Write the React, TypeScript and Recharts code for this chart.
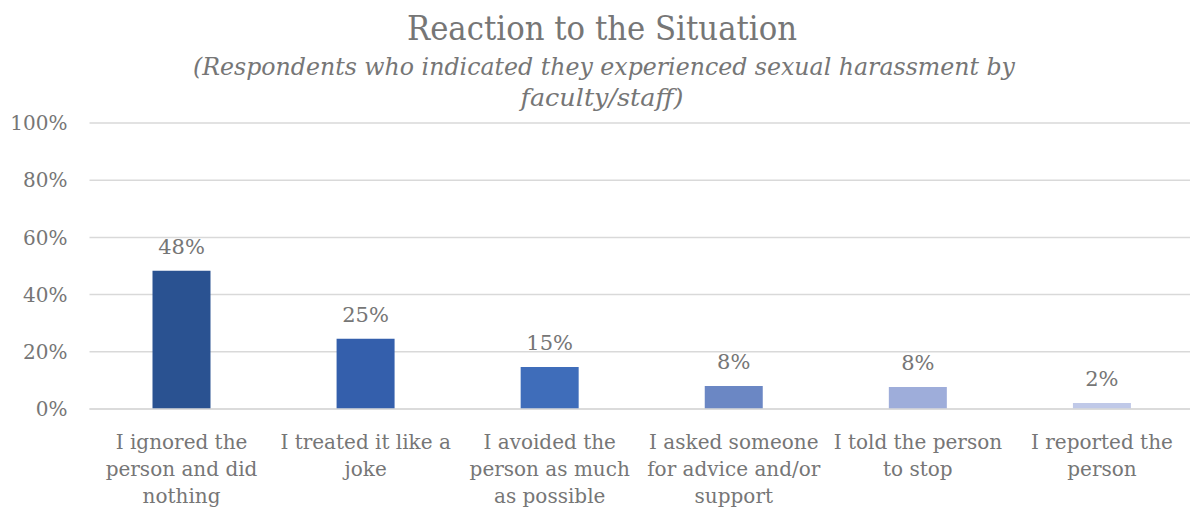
import { BarChart, Bar, XAxis, YAxis, CartesianGrid, Cell, LabelList } from 'recharts'

const categories = [
  'I ignored the\nperson and did\nnothing',
  'I treated it like a\njoke',
  'I avoided the\nperson as much\nas possible',
  'I asked someone\nfor advice and/or\nsupport',
  'I told the person\nto stop',
  'I reported the\nperson',
]
const shares = [48.3, 24.6, 14.7, 8.0, 7.7, 2.1]
const barColors = ['#2a5291', '#345fac', '#3f6dba', '#6b87c4', '#9eadda', '#c0c9e8']
const yTicks = [0, 20, 40, 60, 80, 100]

const title = 'Reaction to the Situation'
const subtitle = ['(Respondents who indicated they experienced sexual harassment by', 'faculty/staff)']

const data = categories.map((name, i) => ({ name, value: shares[i] }))

const serif = '"DejaVu Serif", serif'
const grey = '#767676'

function CategoryTick({ x, y, payload }: any) {
  const lines = String(payload.value).split('\n')
  return (
    <text x={x} y={y} textAnchor="middle" fontFamily={serif} fontSize={20} fill={grey}>
      {lines.map((line, i) => (
        <tspan key={i} x={x} dy={i === 0 ? 32 : 27}>
          {line}
        </tspan>
      ))}
    </text>
  )
}

export default function App() {
  return (
    <div style={{ position: 'absolute', left: 0, top: 0, width: 1190, height: 509, overflow: 'hidden', background: '#fff' }}>
      <BarChart
        width={1194}
        height={509}
        data={data}
        margin={{ top: 123, right: 0, bottom: 0, left: 0 }}
        barCategoryGap={0}
      >
        <CartesianGrid vertical={false} stroke="#d9d9d9" strokeWidth={1.5} />
        <XAxis
          dataKey="name"
          height={100}
          interval={0}
          axisLine={{ stroke: '#d9d9d9', strokeWidth: 1.5 }}
          tickLine={false}
          tick={<CategoryTick />}
        />
        <YAxis
          width={89.5}
          domain={[0, 100]}
          ticks={yTicks}
          axisLine={false}
          tickLine={false}
          tickSize={0}
          tickMargin={22}
          tickFormatter={(v: number) => `${v}%`}
          tick={{ fontFamily: serif, fontSize: 20, fill: grey }}
        />
        <Bar dataKey="value" barSize={58} isAnimationActive={false}>
          {data.map((d, i) => (
            <Cell key={d.name} fill={barColors[i]} />
          ))}
          <LabelList
            dataKey="value"
            position="top"
            offset={17}
            formatter={(v: any) => `${Math.round(Number(v))}%`}
            style={{ fontFamily: serif, fontSize: 21, fill: grey }}
          />
        </Bar>
      </BarChart>
      <svg width={1190} height={120} style={{ position: 'absolute', left: 0, top: 0 }}>
        <text x={602} y={40} textAnchor="middle" fontFamily={serif} fontSize={34} fill={grey} textLength={390} lengthAdjust="spacingAndGlyphs">
          {title}
        </text>
        <text x={604} y={75} textAnchor="middle" fontFamily={serif} fontStyle="italic" fontSize={25} fill={grey} textLength={822} lengthAdjust="spacingAndGlyphs">
          {subtitle[0]}
        </text>
        <text x={602} y={106} textAnchor="middle" fontFamily={serif} fontStyle="italic" fontSize={25} fill={grey} textLength={163} lengthAdjust="spacingAndGlyphs">
          {subtitle[1]}
        </text>
      </svg>
    </div>
  )
}
